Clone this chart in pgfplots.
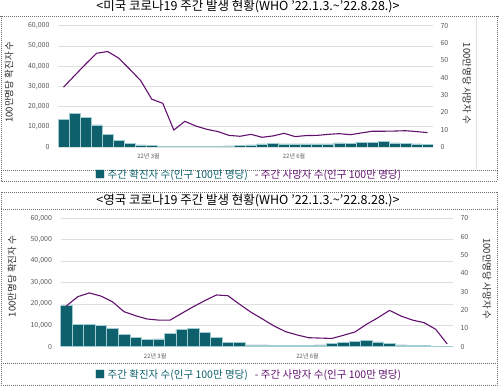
\documentclass[border=0pt]{standalone}
\usepackage{fontspec}
\setmainfont{Noto Sans CJK KR}
\usepackage{pgfplots}
\usepackage{pgfplotstable}
\pgfplotsset{compat=1.18}
\definecolor{teal1}{RGB}{14,96,108}
\definecolor{teal2}{RGB}{160,205,210}
\definecolor{purp}{RGB}{98,18,110}
\definecolor{gridc}{RGB}{222,222,222}
\definecolor{tickc}{RGB}{89,89,89}
\definecolor{dashc}{RGB}{110,110,110}

\pgfplotstableread{
w us usd uk ukd
1 13700 34.5 19200 22.2
2 16700 41.2 10400 27.3
3 14700 47.8 10400 29.3
4 10900 54.1 10100 27.6
5 6300 55.1 8400 24.5
6 3300 51.3 5900 19.1
7 1800 44.9 4400 16.9
8 1000 38.3 3400 15.1
9 700 27.6 3600 14.5
10 300 25.2 6200 14.5
11 250 9.8 8100 18.2
12 250 14.8 8700 21.8
13 250 12.1 6700 25.1
14 300 10.2 4200 28.2
15 350 8.9 2000 27.8
16 500 6.7 2000 23.2
17 800 6.2 900 18.8
18 1000 7.3 800 15.1
19 1500 5.6 600 11.3
20 1800 6.4 500 8.2
21 1500 7.9 500 6.4
22 1500 6.0 600 4.9
23 1500 6.6 800 4.7
24 1500 6.7 1400 4.5
25 1500 7.3 2000 6.2
26 2000 7.7 2500 8.0
27 1650 7.1 2800 12.2
28 2300 8.1 2300 15.8
29 2300 9.1 1600 19.8
30 2600 9.1 800 16.7
31 2000 9.2 500 14.5
32 1800 9.4 500 13.1
33 1500 8.9 200 9.5
34 1150 8.3 0 1.5
}\data

\pgfplotsset{
 common/.style={scale only axis, xmin=0.5, xmax=34.5,
   axis line style={draw=none}, major tick length=0pt,
   tick label style={font=\fontsize{7}{8}\selectfont, text=tickc},
   /pgf/number format/assume math mode=true},
 leftax/.style={common, ymin=0, ymax=60000, ytick={0,10000,...,60000},
   ymajorgrids, grid style={gridc, line width=0.7pt},
   scaled y ticks=false, /pgf/number format/fixed, /pgf/number format/1000 sep={,},
   xtick={8.7,21.9}, xticklabels={22년 3월,22년 6월},
   xticklabel style={font=\fontsize{6}{7}\selectfont, yshift=-3pt},
   ytick pos=left, yticklabel style={xshift=-5pt}},
 rightax/.style={common, ymin=0, ymax=70, ytick={0,10,...,70},
   ytick pos=right, yticklabel pos=right, xtick=\empty, yticklabel style={xshift=4pt}},
 barst/.style={ybar, bar width=#1, fill=teal1, draw=teal2, line width=0.5pt},
 linest/.style={purp, line width=1.1pt, no marks},
}

\begin{document}
\begin{tikzpicture}[x=1pt,y=1pt]
\path[use as bounding box] (0,0) rectangle (500,386);

% frames
\begin{scope}[dashc, dash pattern=on 1pt off 1pt, line width=0.4pt]
\draw (0,370) -- (500,370);
\draw (1,370) -- (1,216) (497.5,370) -- (497.5,216);
\draw (1,216) rectangle (497.5,205);
\draw (1,194.3) rectangle (497.5,176.7);
\draw (1,176.7) -- (1,22.7) (497.5,176.7) -- (497.5,22.7);
\draw (1,22.7) rectangle (497.5,0.5);
\end{scope}
\draw[gridc, line width=0.6pt] (476.7,369) -- (476.7,217);

% titles
\node[font=\fontsize{12.5}{13}\selectfont] at (248,379.5) {<미국 코로나19 주간 발생 현황(WHO ’22.1.3.\textasciitilde’22.8.28.)>};
\node[font=\fontsize{12.5}{13}\selectfont] at (248,185.5) {<영국 코로나19 주간 발생 현황(WHO ’22.1.3.\textasciitilde’22.8.28.)>};

% legends
\node[font=\fontsize{10.5}{11}\selectfont] at (248,210.7) {\textcolor{teal1}{■ 주간 확진자 수(인구 100만 명당)}\hspace{7pt}\textcolor{purp}{- 주간 사망자 수(인구 100만 명당)}};
\node[font=\fontsize{10.5}{11}\selectfont] at (248,11) {\textcolor{teal1}{■ 주간 확진자 수(인구 100만 명당)}\hspace{7pt}\textcolor{purp}{- 주간 사망자 수(인구 100만 명당)}};

% axis labels
\node[rotate=90, font=\fontsize{9.5}{10}\selectfont, text=black!85] at (9,304) {100만명당 확진자 수};
\node[rotate=-90, font=\fontsize{9.5}{10}\selectfont, text=black!85] at (467,302.5) {100만명당 사망자 수};
\node[rotate=90, font=\fontsize{9.5}{10}\selectfont, text=black!85] at (12,109.5) {100만명당 확진자 수};
\node[rotate=-90, font=\fontsize{9.5}{10}\selectfont, text=black!85] at (487,107) {100만명당 사망자 수};

% US
\begin{axis}[leftax, at={(58pt,239pt)}, anchor=south west, width=375pt, height=121.3pt]
\addplot[barst=11pt] table[x=w, y=us] {\data};
\end{axis}
\begin{axis}[rightax, at={(58pt,239pt)}, anchor=south west, width=375pt, height=121.3pt]
\addplot[linest] table[x=w, y=usd] {\data};
\end{axis}

% UK
\begin{axis}[leftax, at={(60.5pt,39.3pt)}, anchor=south west, width=392.5pt, height=128.4pt]
\addplot[barst=11.54pt] table[x=w, y=uk] {\data};
\end{axis}
\begin{axis}[rightax, at={(60.5pt,39.3pt)}, anchor=south west, width=392.5pt, height=128.4pt]
\addplot[linest] table[x=w, y=ukd] {\data};
\end{axis}
\end{tikzpicture}
\end{document}
